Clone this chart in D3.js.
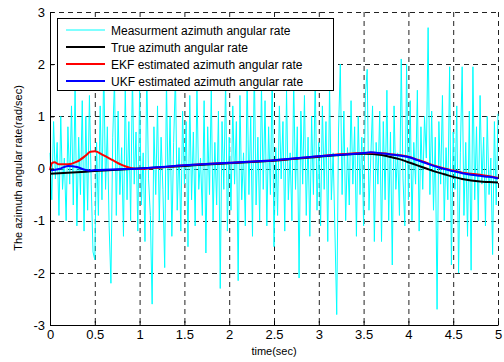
<!DOCTYPE html>
<html>
<head>
<meta charset="utf-8">
<script src="https://cdn.jsdelivr.net/npm/d3@7/dist/d3.min.js"></script>
<style>
  body { margin: 0; background: #fff; }
  svg text { font-family: "Liberation Sans", Arial, sans-serif; fill: #000; }
</style>
</head>
<body>
<svg id="chart" width="504" height="362"></svg>
<script>
// Measurement samples, dt = 0.02 s (t = 0 .. 5)
const measDt = 0.02;
const measurement = [
  0.3, -0.6, 0.9, -0.2, 0.5, -0.9, 1.0, -0.4, 0.2, -1.0,
  0.8, -0.3, 1.2, -0.7, 1.6, -1.1, 0.6, -0.5, 1.3, -1.2,
  1.0, -0.8, 1.4, -0.3, -1.6, -1.75, 0.5, -0.9, 1.2, -0.6,
  2.0, -0.4, 0.8, -1.1, -2.2, 0.6, 1.7, -0.9, 1.1, -0.5,
  0.4, -1.3, 1.6, -0.6, 0.9, -1.0, 1.8, -0.3, 0.7, -1.2,
  1.5, -0.7, 0.3, -1.4, 1.9, -0.2, -0.9, -2.6, 0.8, -0.5,
  1.2, -1.0, 0.6, -0.4, -1.9, 1.7, -0.6, 1.0, -1.3, 0.5,
  1.8, -0.8, 0.4, -1.2, 1.1, -0.3, 0.9, -1.5, 1.4, -0.6,
  0.7, -1.1, 1.6, -0.4, 0.2, -0.9, 1.3, -1.62, 0.8, -0.5,
  1.5, -1.0, 0.5, -0.7, 1.1, -2.3, 0.9, -0.4, 1.7, -1.2,
  0.6, -0.8, 1.2, -0.3, 0.9, -2.15, 1.4, -0.6, 0.3, -1.1,
  1.8, -0.5, 1.0, -1.3, 2.0, -0.7, 0.6, -1.0, 1.6, -0.4,
  1.3, -1.1, 0.8, -0.5, 1.9, -1.5, 0.4, -0.9, 1.2, -0.2,
  0.9, -1.2, 1.5, -0.6, 0.3, -1.0, 1.7, -0.4, 0.8, -2.1,
  1.1, -0.3, 1.4, -0.9, 0.6, -1.3, 1.0, -0.5, 1.8, -0.8,
  0.5, -1.1, 1.2, -0.4, 0.9, -1.4, 1.6, -0.6, 0.3, -1.2,
  -2.8, 0.7, 2.0, -0.5, 1.1, -1.0, 0.4, -0.7, 1.3, -0.3,
  0.8, -1.3, 1.0, -0.5, 0.6, -1.1, 1.4, 1.9, -0.8, 0.2,
  1.2, -1.4, 0.5, -0.3, 1.1, -1.4, 0.9, -0.6, 1.5, -1.0,
  0.7, -1.85, 1.2, -0.4, 0.3, -0.9, 2.1, -0.2, -1.1, 2.0,
  -0.6, 1.3, -1.0, 0.5, -0.3, 1.5, -1.2, 0.8, -0.4, 1.0,
  0.2, 2.7, -0.5, 1.1, -0.8, 0.6, -2.7, 0.9, -0.3, 1.4,
  -1.0, 0.4, -0.6, 1.95, -1.85, 0.7, -0.4, 1.2, -2.0, 0.3,
  1.95, -0.9, 0.5, -1.3, 1.1, -1.95, 1.95, -0.6, 0.8, -1.0,
  1.4, -0.3, 0.6, -1.1, 1.0, -0.5, 0.2, -1.65, 0.9, -0.7,
  1.05
];

// True rate, 0.1 s steps
const trueTime = d3.range(0, 51).map(i => i / 10);
const trueRate = [
  -0.10, -0.09, -0.08, -0.07, -0.06, -0.05, -0.04, -0.03, -0.02, -0.01,
  0.00, 0.01, 0.02, 0.03, 0.04, 0.05, 0.06, 0.07, 0.08, 0.09,
  0.10, 0.11, 0.12, 0.13, 0.14, 0.15, 0.165, 0.18, 0.195, 0.21,
  0.225, 0.24, 0.255, 0.27, 0.28, 0.285, 0.28, 0.26, 0.22, 0.18,
  0.12, 0.06, 0.00, -0.06, -0.11, -0.16, -0.20, -0.23, -0.25, -0.26,
  -0.27
];

// EKF estimate
const ekfTime = [0, 0.02, 0.05, 0.1, 0.2, 0.3, 0.4, 0.45, 0.5, 0.6, 0.7, 0.8, 0.9, 1.0, 1.1,
  1.5, 2.0, 2.5, 3.0, 3.2, 3.3, 3.5, 3.6, 3.7, 3.8, 3.9, 4.0, 4.1, 4.2, 4.3, 4.4,
  4.5, 4.6, 4.7, 4.8, 4.9, 5.0];
const ekfRate = [-0.03, 0.10, 0.12, 0.08, 0.08, 0.13, 0.25, 0.32, 0.33, 0.25, 0.16, 0.07, 0.01, -0.01, 0.0,
  0.06, 0.11, 0.16, 0.235, 0.27, 0.28, 0.295, 0.30, 0.29, 0.275, 0.255, 0.225, 0.17, 0.11, 0.05, 0.0,
  -0.04, -0.08, -0.10, -0.12, -0.15, -0.18];

// UKF estimate
const ukfTime = [0, 0.1, 0.2, 0.3, 0.4, 0.45, 0.5, 1.0, 1.5, 2.0, 2.5, 3.0, 3.5, 3.58, 3.7, 3.8, 3.9,
  4.0, 4.1, 4.2, 4.3, 4.4, 4.5, 4.6, 4.7, 4.8, 4.9, 5.0];
const ukfRate = [-0.04, -0.01, 0.05, 0.03, -0.03, -0.04, -0.03, 0.0, 0.06, 0.11, 0.16, 0.235, 0.295, 0.31, 0.29, 0.27, 0.25,
  0.22, 0.16, 0.10, 0.04, -0.01, -0.05, -0.09, -0.12, -0.14, -0.16, -0.19];

const xTicks = [0, 0.5, 1, 1.5, 2, 2.5, 3, 3.5, 4, 4.5, 5];
const yTicks = [-3, -2, -1, 0, 1, 2, 3];

const legendItems = [
  { label: 'Measurment azimuth angular rate', color: '#00ffff', width: 1 },
  { label: 'True azimuth angular rate', color: '#000000', width: 2 },
  { label: 'EKF estimated azimuth angular rate', color: '#ff0000', width: 2 },
  { label: 'UKF estimated azimuth angular rate', color: '#0000ff', width: 2 },
];

const svg = d3.select('#chart');
const x = d3.scaleLinear([0, 5], [50, 498]);
const y = d3.scaleLinear([-3, 3], [325, 12]);

// MATLAB style labels use a plain hyphen for minus
const fmt = d => String(d);

svg.append('rect').attr('width', 504).attr('height', 362).attr('fill', '#fff');

// Grid (dashed)
const grid = svg.append('g').attr('stroke', '#222').attr('stroke-width', 1).attr('stroke-dasharray', '5,4');
grid.selectAll('.gx').data(xTicks.slice(1)).join('line')
  .attr('x1', d => x(d) + 0.5).attr('x2', d => x(d) + 0.5)
  .attr('y1', y(3)).attr('y2', y(-3));
grid.selectAll('.gy').data(yTicks.slice(1)).join('line')
  .attr('y1', d => Math.round(y(d)) + 0.5).attr('y2', d => Math.round(y(d)) + 0.5)
  .attr('x1', x(0)).attr('x2', x(5));

// Series
const line = d3.line().x(d => x(d[0])).y(d => y(d[1]));
const measPts = measurement.map((v, i) => [i * measDt, v]);
const truePts = trueTime.map((t, i) => [t, trueRate[i]]);
const ekfPts = ekfTime.map((t, i) => [t, ekfRate[i]]);
const ukfPts = ukfTime.map((t, i) => [t, ukfRate[i]]);
const smooth = d3.line().curve(d3.curveMonotoneX).x(d => x(d[0])).y(d => y(d[1]));

svg.append('path').attr('d', line(measPts)).attr('fill', 'none').attr('stroke', '#00ffff').attr('stroke-width', 1);
svg.append('path').attr('d', smooth(truePts)).attr('fill', 'none').attr('stroke', '#000').attr('stroke-width', 2);
svg.append('path').attr('d', smooth(ekfPts)).attr('fill', 'none').attr('stroke', '#ff0000').attr('stroke-width', 2);
svg.append('path').attr('d', smooth(ukfPts)).attr('fill', 'none').attr('stroke', '#0000ff').attr('stroke-width', 2);

// Axes (MATLAB-like, inward ticks)
const xAxis = d3.axisBottom(x).tickValues(xTicks).tickSizeInner(-4).tickSizeOuter(0).tickPadding(5)
  .tickFormat(fmt);
const yAxis = d3.axisLeft(y).tickValues(yTicks).tickSizeInner(-4).tickSizeOuter(0).tickPadding(5)
  .tickFormat(fmt);

const gx = svg.append('g').attr('transform', `translate(0,${y(-3)})`).call(xAxis);
const gy = svg.append('g').attr('transform', `translate(${x(0)},0)`).call(yAxis);
[gx, gy].forEach(g => {
  g.selectAll('path').attr('stroke', '#000');
  g.selectAll('line').attr('stroke', '#000');
  g.selectAll('text').attr('font-size', 13).style('font-family', '"Liberation Sans", Arial, sans-serif');
});

// Axis titles
svg.append('text').attr('x', 274).attr('y', 355).attr('text-anchor', 'middle')
  .attr('font-size', 11).text('time(sec)');
svg.append('text').attr('transform', 'translate(22,168) rotate(-90)').attr('text-anchor', 'middle')
  .attr('font-size', 11).text('The azimuth angular rate(rad/sec)');

// Legend
const legend = svg.append('g');
legend.append('rect').attr('x', 57.5).attr('y', 18.5).attr('width', 276).attr('height', 72)
  .attr('fill', '#fff').attr('stroke', '#000').attr('stroke-width', 1);
const rows = legend.selectAll('g.row').data(legendItems).join('g')
  .attr('transform', (d, i) => `translate(0,${30 + i * 17})`);
rows.append('line').attr('x1', 66).attr('x2', 105).attr('y1', 0).attr('y2', 0)
  .attr('stroke', d => d.color).attr('stroke-width', d => d.width);
rows.append('text').attr('x', 111).attr('y', 4.5).attr('font-size', 12).text(d => d.label);
</script>
</body>
</html>
